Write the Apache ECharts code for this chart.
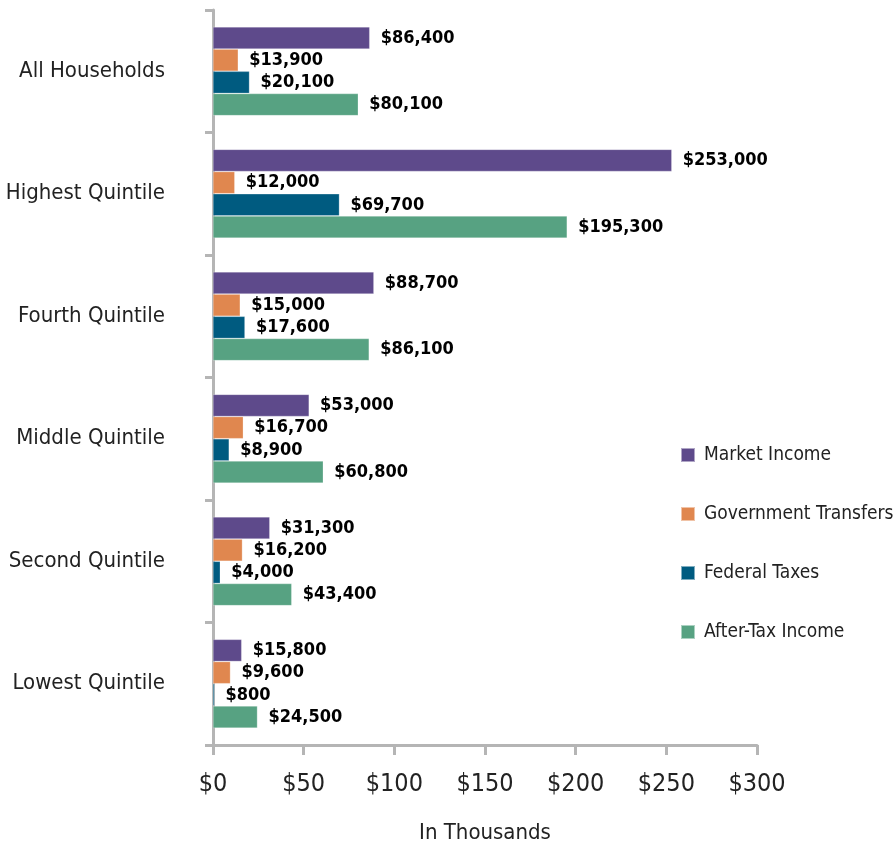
<!DOCTYPE html>
<html>
<head>
<meta charset="utf-8">
<script src="https://cdn.jsdelivr.net/npm/echarts@6/dist/echarts.min.js"></script>
<style>
  html, body { margin: 0; padding: 0; background: #fff; }
  #main { width: 894px; height: 845px; }
</style>
</head>
<body>
<div id="main"></div>
<script>
// categories, top to bottom
var categories = ['All Households', 'Highest Quintile', 'Fourth Quintile', 'Middle Quintile', 'Second Quintile', 'Lowest Quintile'];
// values in thousands of dollars
var marketIncome = [86.4, 253.0, 88.7, 53.0, 31.3, 15.8];
var govTransfers = [13.9, 12.0, 15.0, 16.7, 16.2, 9.6];
var federalTaxes = [20.1, 69.7, 17.6, 8.9, 4.0, 0.8];
var afterTaxIncome = [80.1, 195.3, 86.1, 60.8, 43.4, 24.5];
var seriesNames = ['Market Income', 'Government Transfers', 'Federal Taxes', 'After-Tax Income'];
var xTicks = [0, 50, 100, 150, 200, 250, 300];

var colors = ['#5e4a8b', '#e0874f', '#005b80', '#57a282'];
var font = '"DejaVu Sans Condensed", "Liberation Sans", sans-serif';

function money(v){
    return '$' + Math.round(v * 1000).toLocaleString('en-US');
}

function makeSeries(name, data, idx){
    return {
        name: name,
        type: 'bar',
        data: data,
        barWidth: 22,
        barGap: '1%',
        itemStyle: { color: colors[idx], borderColor: 'rgba(255,255,255,0.5)', borderWidth: 0.5 },
        label: {
            show: true,
            position: 'right',
            distance: 11,
            formatter: function(p){ return money(p.value); },
            color: '#000',
            fontFamily: font,
            fontWeight: 'bold',
            fontSize: 18
        }
    };
}

var chart = echarts.init(document.getElementById('main'));
var option = {
    animation: false,
    color: colors,
    grid: { left: 213, right: 137, top: 10, bottom: 100, containLabel: false, outerBoundsMode: 'none' },
    legend: {
        orient: 'vertical',
        left: 675,
        top: 440,
        itemWidth: 14,
        itemHeight: 14,
        itemGap: 39,
        icon: 'rect',
        data: seriesNames,
        textStyle: { fontFamily: font, fontSize: 19, color: '#222', lineHeight: 20, padding: [0, 0, 0, 4] }
    },
    xAxis: {
        type: 'value',
        min: 0,
        max: 300,
        interval: 50,
        name: 'In Thousands',
        nameLocation: 'middle',
        nameGap: 77,
        nameTextStyle: { fontFamily: font, fontSize: 22, color: '#222' },
        axisLine: { show: true, lineStyle: { color: '#b5b5b5', width: 3 } },
        axisTick: { show: true, length: 10, lineStyle: { color: '#b5b5b5', width: 3 } },
        splitLine: { show: false },
        axisLabel: {
            margin: 27,
            fontFamily: font,
            fontSize: 25,
            color: '#222',
            formatter: function(v){ return xTicks.indexOf(v) >= 0 ? '$' + v : ''; }
        }
    },
    yAxis: {
        type: 'category',
        inverse: true,
        data: categories,
        axisLine: { show: true, lineStyle: { color: '#b5b5b5', width: 3 } },
        axisTick: { show: true, length: 8, lineStyle: { color: '#b5b5b5', width: 3 } },
        axisLabel: { margin: 48, fontFamily: font, fontSize: 22, color: '#222' }
    },
    series: [
        makeSeries(seriesNames[0], marketIncome, 0),
        makeSeries(seriesNames[1], govTransfers, 1),
        makeSeries(seriesNames[2], federalTaxes, 2),
        makeSeries(seriesNames[3], afterTaxIncome, 3)
    ]
};
chart.setOption(option);
</script>
</body>
</html>
